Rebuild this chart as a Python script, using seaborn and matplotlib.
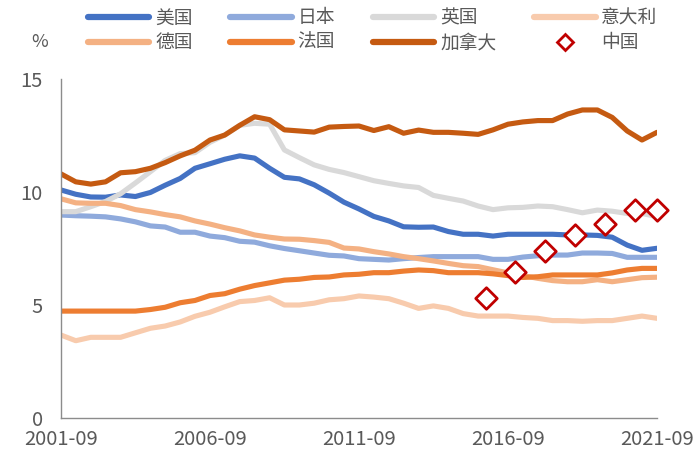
import numpy as np
import pandas as pd
import matplotlib
matplotlib.use("Agg")
import matplotlib.pyplot as plt
import matplotlib.dates as mdates
from matplotlib.lines import Line2D
import seaborn as sns

# ---------------- data (semi-annual, 2001-09 .. 2021-09) ----------------
dates = pd.date_range("2001-09-01", "2021-09-01", freq="6MS")

us = [10.09, 9.9, 9.78, 9.77, 9.87, 9.8, 9.98, 10.3, 10.6, 11.05,
      11.25, 11.45, 11.6, 11.5, 11.05, 10.65, 10.58, 10.32, 9.95, 9.55,
      9.25, 8.92, 8.72, 8.46, 8.44, 8.45, 8.25, 8.13, 8.13, 8.05,
      8.13, 8.13, 8.13, 8.13, 8.1, 8.1, 8.08, 8.0, 7.65, 7.42, 7.51]
japan = [8.98, 8.95, 8.93, 8.9, 8.81, 8.68, 8.5, 8.45, 8.22, 8.22,
         8.05, 7.98, 7.82, 7.78, 7.62, 7.5, 7.4, 7.3, 7.2, 7.17,
         7.05, 7.02, 6.99, 7.05, 7.1, 7.14, 7.14, 7.14, 7.14, 7.02,
         7.02, 7.12, 7.18, 7.21, 7.21, 7.3, 7.3, 7.28, 7.11, 7.11, 7.11]
uk = [9.13, 9.13, 9.35, 9.58, 9.92, 10.4, 10.9, 11.4, 11.7, 11.74,
      12.2, 12.52, 12.95, 13.04, 13.0, 11.86, 11.52, 11.2, 11.0, 10.86,
      10.68, 10.5, 10.38, 10.27, 10.2, 9.85, 9.72, 9.6, 9.38, 9.22,
      9.3, 9.32, 9.38, 9.35, 9.22, 9.08, 9.2, 9.15, 9.05, 9.05, 8.91]
italy = [3.67, 3.42, 3.57, 3.57, 3.57, 3.77, 3.97, 4.07, 4.25, 4.5,
         4.68, 4.92, 5.15, 5.2, 5.32, 5.0, 5.0, 5.08, 5.23, 5.28,
         5.4, 5.35, 5.28, 5.08, 4.85, 4.96, 4.85, 4.62, 4.51, 4.51,
         4.51, 4.45, 4.41, 4.31, 4.31, 4.28, 4.31, 4.31, 4.41, 4.51, 4.41]
germany = [9.7, 9.52, 9.5, 9.5, 9.4, 9.22, 9.12, 9.0, 8.9, 8.72,
           8.58, 8.42, 8.28, 8.1, 8.0, 7.92, 7.91, 7.85, 7.77, 7.52,
           7.48, 7.36, 7.26, 7.14, 7.05, 6.95, 6.84, 6.74, 6.7, 6.56,
           6.42, 6.3, 6.18, 6.08, 6.03, 6.03, 6.12, 6.03, 6.12, 6.21, 6.23]
france = [4.73, 4.73, 4.73, 4.73, 4.73, 4.73, 4.8, 4.9, 5.1, 5.2,
          5.42, 5.5, 5.7, 5.86, 5.98, 6.1, 6.14, 6.22, 6.24, 6.33,
          6.36, 6.43, 6.43, 6.5, 6.55, 6.52, 6.43, 6.43, 6.43, 6.38,
          6.3, 6.22, 6.25, 6.33, 6.33, 6.33, 6.33, 6.42, 6.55, 6.62, 6.62]
canada = [10.8, 10.45, 10.35, 10.45, 10.85, 10.9, 11.05, 11.3, 11.6, 11.85,
          12.3, 12.52, 12.95, 13.33, 13.2, 12.75, 12.7, 12.65, 12.87, 12.9,
          12.92, 12.72, 12.89, 12.6, 12.74, 12.64, 12.64, 12.6, 12.55, 12.75,
          13.0, 13.1, 13.16, 13.16, 13.45, 13.63, 13.63, 13.3, 12.7, 12.3, 12.64]

china_dates = pd.to_datetime(["2015-12-01", "2016-12-01", "2017-12-01", "2018-12-01",
                              "2019-12-01", "2020-12-01", "2021-09-01"])
china = [5.3, 6.45, 7.4, 8.1, 8.6, 9.2, 9.2]

series_names = ["美国", "日本", "英国", "意大利", "德国", "法国", "加拿大"]
series_values = [us, japan, uk, italy, germany, france, canada]
colors = ["#4472C4", "#8FAADC", "#D9D9D9", "#F8CBAD", "#F4B183", "#ED7D31", "#C55A11"]
china_name = "中国"
x_ticks = ["2001-09", "2006-09", "2011-09", "2016-09", "2021-09"]
y_ticks = [0, 5, 10, 15]

# ---------------- build tables ----------------
df = pd.concat([pd.DataFrame({"date": dates, "value": v, "country": n})
                for n, v in zip(series_names, series_values)], ignore_index=True)
df_cn = pd.DataFrame({"date": china_dates, "value": china, "country": china_name})

# ---------------- plot ----------------
sns.set_theme(style="white")
plt.rcParams["font.family"] = ["Noto Sans CJK SC", "DejaVu Sans"]

fig = plt.figure(figsize=(7.0, 4.59), dpi=100)
ax = fig.add_axes([61 / 700, 1 - 418 / 459, (657 - 61) / 700, (418 - 79) / 459])

palette = dict(zip(series_names, colors))
sns.lineplot(data=df, x="date", y="value", hue="country", hue_order=series_names,
             palette=palette, linewidth=3.7, ax=ax, legend=False,
             solid_capstyle="round")
sns.scatterplot(data=df_cn, x="date", y="value", marker="D", s=120,
                facecolor="white", edgecolor="#C00000", linewidth=2.0,
                ax=ax, legend=False, zorder=5, clip_on=False)

ax.set_xlim(pd.Timestamp("2001-09-01"), pd.Timestamp("2021-09-01"))
ax.set_ylim(0, 15)
ax.set_xticks([pd.Timestamp(t + "-01") for t in x_ticks])
ax.set_xticklabels(x_ticks)
ax.set_yticks(y_ticks)
ax.set_xlabel("")
ax.set_ylabel("")

for s in ["top", "right"]:
    ax.spines[s].set_visible(False)
for s in ["left", "bottom"]:
    ax.spines[s].set_color("#8C8C8C")
    ax.spines[s].set_linewidth(1.0)
ax.tick_params(axis="both", which="major", length=5, width=1.0, color="#8C8C8C",
               labelcolor="#595959", labelsize=14.5, direction="out")
ax.tick_params(axis="x", pad=3)
ax.tick_params(axis="y", pad=8)
ax.grid(False)

# legend (row-wise order)
handles = [Line2D([0], [0], color=c, lw=4.5, solid_capstyle="round") for c in colors]
handles.append(Line2D([0], [0], marker="D", color="none", markerfacecolor="white",
                      markeredgecolor="#C00000", markeredgewidth=2.0, markersize=8.5))
labels = series_names + [china_name]
order = [0, 4, 1, 5, 2, 6, 3, 7]
fig.legend([handles[i] for i in order], [labels[i] for i in order],
           ncol=4, loc="upper left", bbox_to_anchor=(80 / 700, 1.0),
           frameon=False, fontsize=13.5, handlelength=3.3, handletextpad=0.3,
           columnspacing=2.0, labelspacing=0.2, borderaxespad=0.0,
           labelcolor="#595959")
fig.text(40 / 700, 1 - 42 / 459, "%", fontsize=13, color="#595959",
         ha="center", va="center")

fig.savefig("out.png", dpi=100)
